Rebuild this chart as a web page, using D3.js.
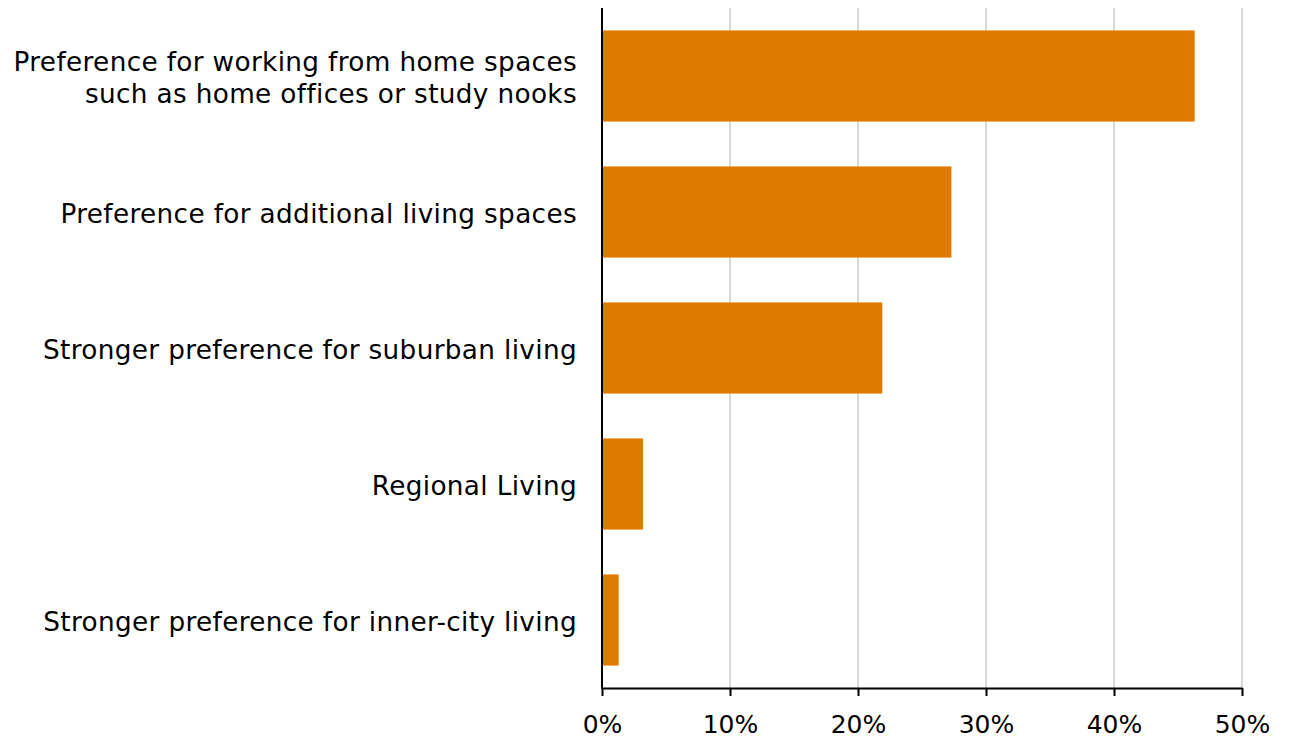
<!DOCTYPE html>
<html>
<head>
<meta charset="utf-8">
<script src="https://cdn.jsdelivr.net/npm/d3@7"></script>
<style>
  html, body { margin: 0; padding: 0; background: #fff; }
  svg { display: block; }
  text { font-family: "DejaVu Sans", Verdana, sans-serif; fill: #000; }
</style>
</head>
<body>
<svg id="chart" width="1292" height="738"></svg>
<script>
const categories = [
  ["Preference for working from home spaces", "such as home offices or study nooks"],
  ["Preference for additional living spaces"],
  ["Stronger preference for suburban living"],
  ["Regional Living"],
  ["Stronger preference for inner-city living"]
];
const values = [46.3, 27.3, 21.9, 3.2, 1.3];
const tickValues = [0, 10, 20, 30, 40, 50];
const tickLabels = ["0%", "10%", "20%", "30%", "40%", "50%"];

const svg = d3.select("#chart");
const mLeft = 602, mRight = 1242, mTop = 8, mBottom = 688;
const fontSize = 26.3;

const x = d3.scaleLinear().domain([0, 50]).range([mLeft, mRight]);
const y = d3.scaleBand().domain(d3.range(categories.length)).range([mTop, mBottom])
  .paddingInner(0.33).paddingOuter(0.165);

// gridlines
svg.append("g").selectAll("line").data(tickValues.slice(1)).join("line")
  .attr("x1", d => x(d)).attr("x2", d => x(d))
  .attr("y1", mTop).attr("y2", mBottom)
  .attr("stroke", "#d9d9d9").attr("stroke-width", 2);

// bars
svg.append("g").selectAll("rect").data(values).join("rect")
  .attr("x", x(0))
  .attr("y", (d, i) => y(i))
  .attr("width", d => x(d) - x(0))
  .attr("height", y.bandwidth())
  .attr("fill", "#df7a00");

// x axis
const xAxis = d3.axisBottom(x).tickValues(tickValues)
  .tickFormat((d, i) => tickLabels[i]).tickSize(8).tickSizeOuter(0);
const gx = svg.append("g").attr("transform", `translate(0,${mBottom})`).call(xAxis);
gx.select(".domain").attr("stroke", "#000").attr("stroke-width", 2);
gx.selectAll(".tick line").attr("stroke", "#000").attr("stroke-width", 2);
gx.selectAll(".tick text").attr("font-size", 25).attr("font-family", "DejaVu Sans, Verdana, sans-serif")
  .attr("fill", "#000").attr("dy", 0).attr("y", 45);

// y axis line
svg.append("line").attr("x1", mLeft).attr("x2", mLeft).attr("y1", mTop).attr("y2", mBottom + 1)
  .attr("stroke", "#000").attr("stroke-width", 2);

// category labels
const lineH = 32.5;
const lbl = svg.append("g").selectAll("text").data(categories).join("text")
  .attr("text-anchor", "end")
  .attr("font-size", fontSize)
  .attr("letter-spacing", 0.35)
  .attr("x", 577)
  .attr("y", (d, i) => y(i) + y.bandwidth() / 2);
lbl.selectAll("tspan").data(d => d.map((t, j) => ({t, j, n: d.length}))).join("tspan")
  .attr("x", 577)
  .attr("dy", d => d.j === 0 ? ((-(d.n - 1) / 2) * lineH + 11) + "px" : lineH + "px")
  .text(d => d.t);
</script>
</body>
</html>
